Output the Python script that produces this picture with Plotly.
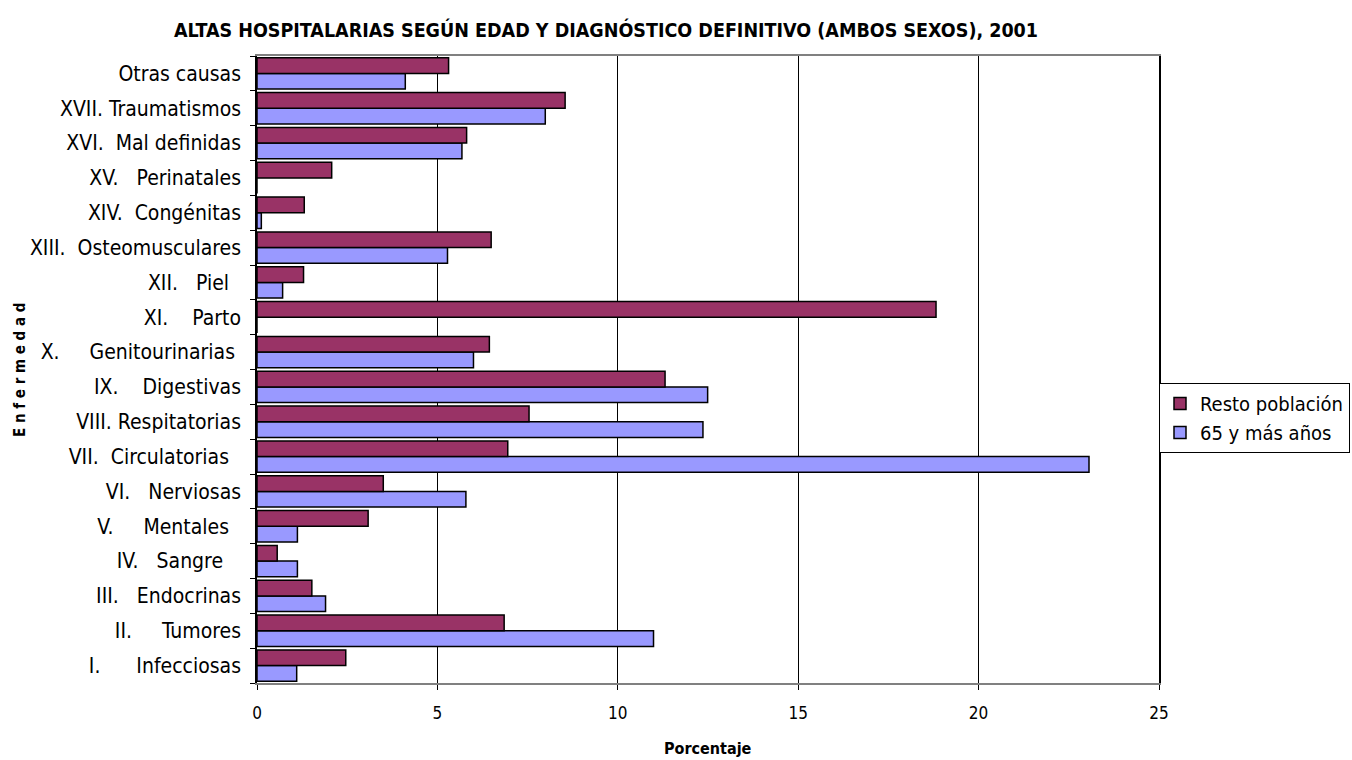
import plotly.graph_objects as go

NB = "\u00a0"
categories = [
    "I." + NB*6 + "Infecciosas",
    "II." + NB*5 + "Tumores",
    "III." + NB*3 + "Endocrinas",
    "IV." + NB*3 + "Sangre" + NB*3,
    "V." + NB*5 + "Mentales" + NB*2,
    "VI." + NB*3 + "Nerviosas",
    "VII." + NB*2 + "Circulatorias" + NB*2,
    "VIII. Respitatorias",
    "IX." + NB*4 + "Digestivas",
    "X." + NB*5 + "Genitourinarias" + NB,
    "XI." + NB*4 + "Parto",
    "XII." + NB*3 + "Piel" + NB*2,
    "XIII." + NB*2 + "Osteomusculares",
    "XIV." + NB*2 + "Congénitas",
    "XV." + NB*3 + "Perinatales",
    "XVI." + NB*2 + "Mal definidas",
    "XVII. Traumatismos",
    "Otras causas",
]
resto_poblacion = [2.46, 6.85, 1.52, 0.56, 3.08, 3.50, 6.95, 7.54, 11.31, 6.44,
                   18.82, 1.29, 6.49, 1.31, 2.07, 5.81, 8.54, 5.31]
mayores_65 = [1.10, 10.99, 1.90, 1.12, 1.12, 5.79, 23.06, 12.36, 12.49, 6.00,
              0.0, 0.71, 5.28, 0.12, 0.0, 5.68, 7.99, 4.11]
x_ticks = [0, 5, 10, 15, 20, 25]

FONT = "DejaVu Sans Condensed, Liberation Sans Narrow, sans-serif"

fig = go.Figure()
fig.add_trace(go.Bar(
    y=categories, x=mayores_65, orientation="h", name="65 y más años",
    marker=dict(color="#9999FF", line=dict(color="black", width=1.5)),
))
fig.add_trace(go.Bar(
    y=categories, x=resto_poblacion, orientation="h", name="Resto población",
    marker=dict(color="#993366", line=dict(color="black", width=1.5)),
))

fig.update_layout(
    width=1352, height=760,
    margin=dict(l=257, r=193, t=56, b=77, autoexpand=False),
    paper_bgcolor="white", plot_bgcolor="white",
    barmode="group", bargap=0.1, bargroupgap=0,
    font=dict(family=FONT, size=16, color="black"),
    title=dict(
        text="<b>ALTAS HOSPITALARIAS SEGÚN EDAD Y DIAGNÓSTICO DEFINITIVO (AMBOS SEXOS), 2001</b>",
        x=606/1352, xref="container", xanchor="center", y=1-30/760, yref="container",
        yanchor="middle",
        font=dict(family=FONT, size=19.5, color="black"),
    ),
    xaxis=dict(
        range=[0, 25], tickvals=x_ticks, ticktext=[str(v) for v in x_ticks],
        showgrid=True, gridcolor="black", gridwidth=1,
        showline=True, linecolor="#808080", linewidth=2, mirror=True,
        ticks="outside", ticklen=5, tickcolor="black", ticklabelstandoff=9,
        tickfont=dict(size=17), zeroline=False, automargin=False,
    ),
    yaxis=dict(
        type="category", categoryorder="array", categoryarray=categories,
        showline=True, linecolor="black", linewidth=1.5, mirror=True,
        ticks="outside", ticklen=5, tickcolor="black", tickson="boundaries",
        ticklabelstandoff=10, automargin=False,
        tickfont=dict(size=21), showgrid=False,
    ),
    legend=dict(
        x=1.0, xanchor="left", y=(683-418)/627, yanchor="middle", xref="paper",
        traceorder="reversed", bordercolor="black", borderwidth=1,
        font=dict(size=20), bgcolor="white",
    ),
    annotations=[
        dict(
            text="<b>E n f e r m e d a d</b>", textangle=-90,
            xref="paper", yref="paper", x=(20-257)/902, y=(683-370)/627,
            xanchor="center", yanchor="middle", showarrow=False,
            font=dict(family=FONT, size=15),
        ),
        dict(
            text="<b>Porcentaje</b>",
            xref="paper", yref="paper", x=(708-257)/902, y=(683-748)/627,
            xanchor="center", yanchor="middle", showarrow=False,
            font=dict(family=FONT, size=16),
        ),
    ],
)

fig.write_html("out.html")
